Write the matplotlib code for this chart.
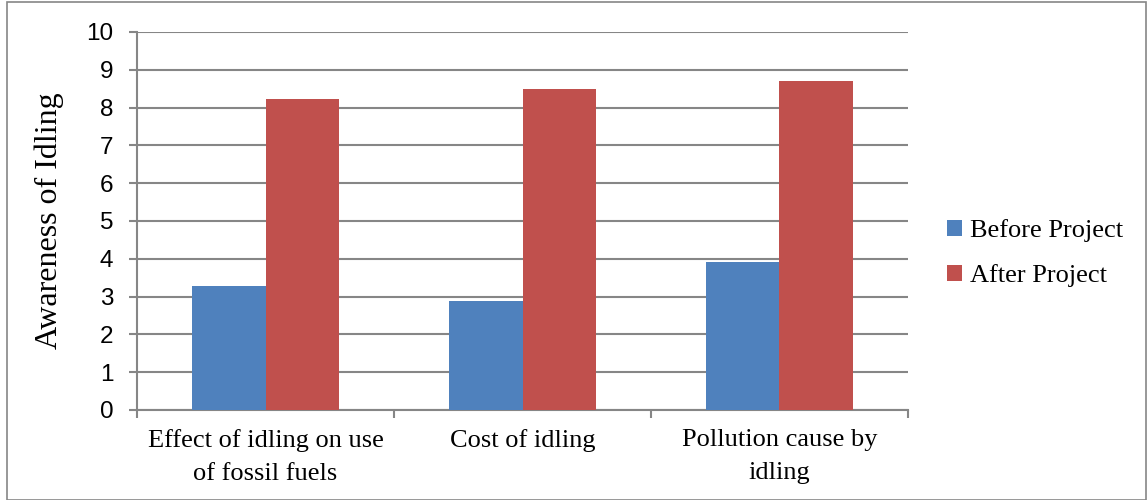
import matplotlib.pyplot as plt
import numpy as np
from matplotlib.patches import Rectangle

# data
categories = ["Effect of idling on use\nof fossil fuels", "Cost of idling",
              "Pollution cause by\nidling"]
before = [3.28, 2.88, 3.92]
after = [8.23, 8.48, 8.70]
series_names = ["Before Project", "After Project"]

blue = "#4f81bd"
red = "#c0504d"
grid_c = "#868686"

fig = plt.figure(figsize=(11.48, 5.0), dpi=100)
ax = fig.add_axes([137/1148, 1-410/500, (908-137)/1148, (410-32)/500])

x = np.arange(len(categories))
w = 0.285
ax.bar(x - w/2, before, w, color=blue, label=series_names[0], zorder=3)
ax.bar(x + w/2, after, w, color=red, label=series_names[1], zorder=3)

ax.set_xlim(-0.5, len(categories) - 0.5)
ax.set_ylim(0, 10)
ax.set_yticks(range(0, 11))
ax.yaxis.grid(True, color=grid_c, linewidth=1.5, zorder=0)
ax.set_axisbelow(True)

for s in ["top", "right"]:
    ax.spines[s].set_visible(False)
for s in ["left", "bottom"]:
    ax.spines[s].set_color(grid_c)
    ax.spines[s].set_linewidth(1.5)

# category labels between boundary ticks
ax.set_xticks(np.arange(-0.5, len(categories)))
ax.set_xticklabels([])
ax.set_xticks(x, minor=True)
ax.set_xticklabels(categories, minor=True, fontsize=19, family="Liberation Serif",
                   linespacing=1.6)
ax.tick_params(axis="x", which="major", length=6, width=1.5, color=grid_c, direction="out")
ax.tick_params(axis="x", which="minor", length=0, pad=14)
ax.tick_params(axis="y", length=6, width=1.5, color=grid_c, labelsize=17.5, pad=11)
for lab in ax.get_yticklabels():
    lab.set_family("Liberation Sans")

ax.set_ylabel("Awareness of Idling", fontsize=23, family="Liberation Serif", labelpad=16)

leg = ax.legend(loc="center left", bbox_to_anchor=(1.02, 0.415), frameon=False,
                prop={"family": "Liberation Serif", "size": 19},
                handlelength=0.55, handleheight=0.55, handletextpad=0.3,
                labelspacing=0.85)

# outer border
fig.patches.append(Rectangle((7/1148, 0.0), 1 - 9/1148, 1 - 2/500, transform=fig.transFigure,
                             fill=False, edgecolor=grid_c, linewidth=1.2))

fig.savefig("out.png", dpi=100)
